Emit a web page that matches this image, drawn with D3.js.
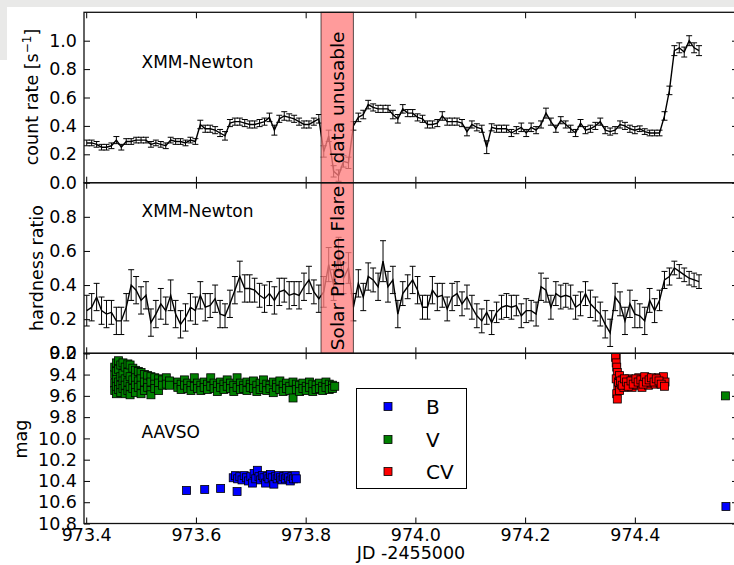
<!DOCTYPE html>
<html><head><meta charset="utf-8">
<script src="https://cdn.jsdelivr.net/npm/d3@7"></script>
<style>
html,body{margin:0;padding:0;background:#fff;}
svg{display:block;font-family:"DejaVu Sans",sans-serif;}
</style></head><body>
<svg id="chart" width="734" height="565"></svg>
<script>
// ---------------- DATA ----------------
const time = [
973.401,973.410,973.419,973.428,973.437,973.446,973.455,973.464,973.473,973.482,
973.491,973.500,973.509,973.518,973.527,973.536,973.545,973.554,973.563,973.572,
973.581,973.590,973.599,973.608,973.617,973.626,973.635,973.644,973.653,973.662,
973.671,973.680,973.689,973.698,973.707,973.716,973.725,973.734,973.743,973.752,
973.761,973.770,973.779,973.788,973.797,973.806,973.815,973.824,973.833,973.842,
973.851,973.860,973.869,973.878,973.887,973.896,973.905,973.914,973.923,973.932,
973.941,973.950,973.959,973.968,973.977,973.986,973.995,974.004,974.013,974.022,
974.031,974.040,974.049,974.058,974.067,974.076,974.085,974.094,974.103,974.112,
974.121,974.130,974.139,974.148,974.157,974.166,974.175,974.184,974.193,974.202,
974.211,974.220,974.229,974.238,974.247,974.256,974.265,974.274,974.283,974.292,
974.301,974.310,974.319,974.328,974.337,974.346,974.355,974.364,974.373,974.382,
974.391,974.400,974.409,974.418,974.427,974.436,974.445,974.454,974.463,974.472,
974.481,974.490,974.499,974.508,974.517];

const rate = [
0.28,0.28,0.27,0.25,0.25,0.26,0.30,0.25,0.29,0.29,
0.30,0.30,0.30,0.27,0.28,0.27,0.26,0.30,0.29,0.29,
0.28,0.30,0.29,0.41,0.38,0.38,0.37,0.35,0.33,0.42,
0.43,0.43,0.42,0.41,0.41,0.42,0.43,0.46,0.37,0.45,
0.47,0.46,0.45,0.43,0.41,0.41,0.43,0.45,0.22,0.33,
0.08,0.05,0.15,0.14,0.40,0.46,0.48,0.55,0.53,0.52,
0.52,0.52,0.48,0.45,0.52,0.49,0.49,0.46,0.45,0.41,
0.41,0.42,0.47,0.43,0.43,0.43,0.42,0.36,0.41,0.39,
0.38,0.25,0.39,0.38,0.38,0.38,0.35,0.37,0.39,0.35,
0.39,0.37,0.41,0.49,0.43,0.38,0.44,0.41,0.38,0.35,
0.42,0.37,0.38,0.40,0.43,0.37,0.36,0.37,0.41,0.40,
0.38,0.37,0.38,0.36,0.35,0.35,0.35,0.47,0.65,0.93,
0.95,0.92,1.00,0.95,0.93];

const rateErr = [
0.020,0.020,0.020,0.020,0.020,0.020,0.025,0.020,0.020,0.020,
0.020,0.020,0.020,0.020,0.020,0.020,0.020,0.020,0.020,0.020,
0.020,0.020,0.020,0.030,0.025,0.025,0.025,0.025,0.030,0.025,
0.025,0.025,0.025,0.025,0.025,0.025,0.025,0.030,0.035,0.025,
0.030,0.025,0.025,0.025,0.025,0.025,0.025,0.030,0.040,0.040,
0.040,0.040,0.040,0.040,0.030,0.030,0.030,0.030,0.025,0.025,
0.025,0.025,0.030,0.030,0.030,0.025,0.025,0.025,0.025,0.025,
0.025,0.025,0.030,0.025,0.025,0.025,0.025,0.030,0.025,0.025,
0.025,0.045,0.025,0.025,0.025,0.025,0.025,0.025,0.030,0.025,
0.030,0.025,0.025,0.035,0.025,0.025,0.025,0.025,0.025,0.025,
0.025,0.025,0.025,0.025,0.025,0.025,0.025,0.025,0.025,0.025,
0.025,0.025,0.020,0.020,0.020,0.020,0.020,0.030,0.030,0.035,
0.035,0.035,0.035,0.035,0.035];

const hardness = [
0.25,0.27,0.33,0.25,0.23,0.24,0.19,0.19,0.27,0.40,
0.37,0.31,0.34,0.18,0.23,0.29,0.25,0.34,0.23,0.17,
0.21,0.27,0.25,0.34,0.27,0.28,0.32,0.23,0.22,0.29,
0.37,0.45,0.38,0.38,0.37,0.34,0.32,0.35,0.31,0.36,
0.37,0.34,0.35,0.34,0.39,0.43,0.36,0.32,0.36,0.52,
0.40,0.58,0.44,0.50,0.27,0.41,0.33,0.45,0.43,0.39,
0.54,0.39,0.43,0.23,0.35,0.39,0.43,0.37,0.27,0.27,
0.37,0.33,0.34,0.26,0.33,0.35,0.29,0.33,0.27,0.22,
0.19,0.24,0.18,0.24,0.27,0.28,0.27,0.28,0.22,0.25,
0.25,0.23,0.39,0.37,0.27,0.35,0.33,0.34,0.33,0.27,
0.29,0.35,0.29,0.26,0.23,0.17,0.12,0.33,0.29,0.19,
0.29,0.23,0.22,0.19,0.31,0.25,0.31,0.43,0.45,0.50,
0.48,0.46,0.44,0.43,0.42];

const hardnessErr = [
0.09,0.08,0.08,0.08,0.08,0.07,0.08,0.08,0.08,0.09,
0.08,0.08,0.08,0.08,0.08,0.09,0.08,0.09,0.08,0.08,
0.08,0.08,0.08,0.08,0.08,0.07,0.08,0.08,0.07,0.08,
0.08,0.09,0.08,0.08,0.07,0.07,0.08,0.07,0.08,0.08,
0.07,0.08,0.07,0.08,0.08,0.08,0.07,0.08,0.09,0.10,
0.09,0.10,0.09,0.09,0.08,0.08,0.08,0.08,0.07,0.08,
0.12,0.09,0.08,0.08,0.07,0.07,0.08,0.08,0.07,0.07,
0.08,0.08,0.07,0.07,0.08,0.07,0.07,0.07,0.07,0.07,
0.07,0.07,0.07,0.06,0.07,0.07,0.07,0.06,0.07,0.07,
0.06,0.07,0.08,0.07,0.07,0.07,0.07,0.07,0.07,0.07,
0.07,0.07,0.08,0.07,0.07,0.08,0.08,0.08,0.07,0.08,
0.08,0.08,0.07,0.08,0.07,0.07,0.06,0.05,0.05,0.04,
0.04,0.04,0.04,0.04,0.04];

const magB = [
[973.583,10.49],[973.616,10.48],[973.645,10.47],[973.675,10.50],
[973.668,10.37],[973.672,10.35],[973.676,10.38],[973.680,10.36],[973.684,10.39],
[973.688,10.35],[973.692,10.37],[973.696,10.40],[973.700,10.36],[973.703,10.42],
[973.706,10.33],[973.709,10.38],[973.712,10.30],[973.715,10.36],[973.718,10.39],
[973.721,10.35],[973.724,10.37],[973.727,10.42],[973.730,10.36],[973.733,10.38],
[973.736,10.34],[973.739,10.37],[973.742,10.43],[973.745,10.36],[973.748,10.38],
[973.751,10.35],[973.754,10.37],[973.757,10.39],[973.760,10.36],[973.763,10.38],
[973.766,10.35],[973.769,10.37],[973.772,10.40],[973.775,10.36],[973.778,10.38],
[973.781,10.35],[973.783,10.38],
[974.566,10.64]];

const magV = [
[973.452,9.40],[973.452,9.48],[973.452,9.55],[973.452,9.33],
[973.455,9.29],[973.455,9.44],[973.455,9.58],[973.455,9.51],[973.455,9.37],
[973.459,9.27],[973.459,9.35],[973.459,9.47],[973.459,9.54],
[973.463,9.31],[973.463,9.42],[973.463,9.50],[973.463,9.57],
[973.467,9.29],[973.467,9.39],[973.467,9.46],[973.467,9.53],
[973.471,9.33],[973.471,9.44],[973.471,9.58],[973.471,9.50],
[973.476,9.30],[973.476,9.38],[973.476,9.47],[973.476,9.55],
[973.480,9.31],[973.480,9.42],[973.480,9.51],[973.480,9.59],
[973.485,9.34],[973.485,9.45],[973.485,9.53],
[973.490,9.36],[973.490,9.43],[973.490,9.50],[973.490,9.57],
[973.495,9.37],[973.495,9.46],[973.495,9.52],
[973.500,9.38],[973.500,9.44],[973.500,9.50],[973.500,9.58],
[973.506,9.40],[973.506,9.47],[973.506,9.55],
[973.512,9.41],[973.512,9.48],[973.512,9.52],
[973.518,9.42],[973.518,9.47],[973.518,9.55],[973.518,9.59],
[973.525,9.43],[973.525,9.49],[973.525,9.53],
[973.532,9.44],[973.532,9.48],[973.532,9.55],
[973.539,9.45],[973.539,9.50],
[973.546,9.43],[973.546,9.49],
[973.552,9.46],[973.552,9.50],
[973.567,9.47],[973.567,9.52],[973.573,9.49],[973.573,9.54],[973.579,9.45],[973.579,9.50],
[973.585,9.48],[973.585,9.53],[973.591,9.50],[973.591,9.55],[973.597,9.43],[973.597,9.51],
[973.603,9.48],[973.603,9.53],[973.609,9.50],[973.609,9.55],[973.615,9.47],[973.615,9.52],
[973.621,9.49],[973.621,9.54],[973.627,9.43],[973.627,9.51],[973.633,9.48],[973.633,9.53],
[973.639,9.50],[973.639,9.56],[973.645,9.47],[973.645,9.52],[973.651,9.49],[973.651,9.54],
[973.657,9.45],[973.657,9.51],[973.663,9.48],[973.663,9.53],[973.669,9.50],[973.669,9.56],
[973.675,9.43],[973.675,9.52],[973.681,9.48],[973.681,9.54],[973.687,9.50],[973.687,9.53],
[973.693,9.47],[973.693,9.55],[973.699,9.49],[973.699,9.52],[973.705,9.46],[973.705,9.53],
[973.711,9.50],[973.711,9.56],[973.717,9.48],[973.717,9.54],[973.723,9.45],[973.723,9.52],
[973.729,9.49],[973.729,9.55],[973.735,9.50],[973.735,9.53],[973.741,9.47],[973.741,9.57],
[973.747,9.49],[973.747,9.52],[973.753,9.46],[973.753,9.54],[973.759,9.50],[973.759,9.56],
[973.765,9.48],[973.765,9.53],[973.771,9.51],[973.771,9.55],[973.777,9.47],[973.777,9.62],
[973.783,9.49],[973.783,9.54],[973.789,9.50],[973.789,9.56],[973.795,9.48],[973.795,9.53],
[973.801,9.51],[973.801,9.55],[973.807,9.47],[973.807,9.52],[973.813,9.49],[973.813,9.56],
[973.819,9.50],[973.819,9.54],[973.825,9.48],[973.825,9.53],[973.831,9.51],[973.831,9.55],
[973.837,9.47],[973.837,9.52],[973.843,9.49],[973.843,9.54],[973.849,9.50],[973.849,9.53],
[973.853,9.51],
[974.565,9.60]];

const magCV = [
[974.366,9.21],[974.365,9.24],[974.366,9.29],[974.367,9.33],[974.368,9.38],[974.366,9.44],
[974.369,9.52],[974.367,9.58],[974.368,9.63],[974.370,9.47],[974.372,9.41],[974.372,9.55],
[974.375,9.49],[974.378,9.45],[974.380,9.52],[974.383,9.47],[974.386,9.50],[974.389,9.44],
[974.392,9.48],[974.395,9.52],[974.398,9.45],[974.401,9.47],[974.404,9.50],[974.407,9.43],
[974.410,9.48],[974.413,9.52],[974.416,9.45],[974.419,9.47],[974.422,9.43],[974.425,9.50],
[974.428,9.46],[974.431,9.48],[974.434,9.44],[974.437,9.49],[974.440,9.46],[974.443,9.43],
[974.446,9.48],[974.449,9.45],[974.452,9.42],[974.455,9.47],
[974.374,9.46],[974.377,9.50],[974.381,9.44],[974.385,9.47],[974.388,9.51],[974.393,9.46],
[974.397,9.49],[974.402,9.44],[974.406,9.47],[974.411,9.45],[974.415,9.49],[974.418,9.42],
[974.421,9.47],[974.426,9.45],[974.430,9.43],[974.435,9.47],[974.439,9.44],[974.444,9.46],
[974.448,9.49],[974.454,9.51]];

const xTicks = [973.4, 973.6, 973.8, 974.0, 974.2, 974.4];
const rateTicks = [0.0, 0.2, 0.4, 0.6, 0.8, 1.0];
const hardnessTicks = [0.0, 0.2, 0.4, 0.6, 0.8];
const magTicks = [9.2, 9.4, 9.6, 9.8, 10.0, 10.2, 10.4, 10.6, 10.8];
const flareSpan = [973.828, 973.887];
const legendLabels = ["B", "V", "CV"];

// ---------------- DRAWING ----------------
const svg = d3.select("#chart");
const L = 84, R = 738;
const x = d3.scaleLinear().domain([973.396, 974.588]).range([L, R]);

// page background strips (screenshot frame)
svg.append("rect").attr("x",0).attr("y",0).attr("width",734).attr("height",7).attr("fill","#e9e9e8");
svg.append("rect").attr("x",0).attr("y",0).attr("width",7).attr("height",60).attr("fill","#e9e9e8");

const yRate = d3.scaleLinear().domain([0, 1.2]).range([182.7, 12.3]);
const yHR = d3.scaleLinear().domain([0, 1.0]).range([353.3, 182.7]);
const yMag = d3.scaleLinear().domain([9.2, 10.8]).range([353.3, 523.5]);

const panels = [
  {id:"p1", y:yRate, top:12.3, bot:182.7, ticks:rateTicks, fmt:d3.format(".1f")},
  {id:"p2", y:yHR, top:182.7, bot:353.3, ticks:hardnessTicks, fmt:d3.format(".1f")},
  {id:"p3", y:yMag, top:353.3, bot:523.5, ticks:magTicks, fmt:d3.format(".1f")}
];

const defs = svg.append("defs");
panels.forEach(p => {
  defs.append("clipPath").attr("id","clip-"+p.id)
    .append("rect").attr("x",L).attr("y",p.top).attr("width",R-L).attr("height",p.bot-p.top);
});

function drawErrSeries(p, vals, errs) {
  const g = svg.append("g").attr("clip-path","url(#clip-"+p.id+")");
  const pts = time.map((t,i)=>({t, v:vals[i], e:errs[i]}));
  const eb = g.append("g").attr("stroke","#000").attr("stroke-width",1);
  pts.forEach(d=>{
    const xx = x(d.t), y1 = p.y(d.v - d.e), y2 = p.y(d.v + d.e);
    eb.append("line").attr("x1",xx).attr("x2",xx).attr("y1",y1).attr("y2",y2);
    eb.append("line").attr("x1",xx-3).attr("x2",xx+3).attr("y1",y1).attr("y2",y1);
    eb.append("line").attr("x1",xx-3).attr("x2",xx+3).attr("y1",y2).attr("y2",y2);
  });
  g.append("path").datum(pts)
    .attr("d", d3.line().x(d=>x(d.t)).y(d=>p.y(d.v)))
    .attr("fill","none").attr("stroke","#000").attr("stroke-width",1.4)
    .attr("stroke-linejoin","miter");
}

drawErrSeries(panels[0], rate, rateErr);
drawErrSeries(panels[1], hardness, hardnessErr);

// flare spans
[panels[0], panels[1]].forEach(p=>{
  svg.append("rect")
    .attr("x", x(flareSpan[0])).attr("y", p.top)
    .attr("width", x(flareSpan[1]) - x(flareSpan[0])).attr("height", p.bot - p.top)
    .attr("fill","#ff7f7f").attr("fill-opacity",0.78)
    .attr("stroke","#000").attr("stroke-opacity",0.65).attr("stroke-width",1);
});

// AAVSO markers
const g3 = svg.append("g").attr("clip-path","url(#clip-p3)");
const colors = {B:"#0000ff", V:"#008000", CV:"#ff0000"};
function squares(data, color) {
  g3.append("g").selectAll("rect").data(data).join("rect")
    .attr("x", d=>x(d[0])-4).attr("y", d=>yMag(d[1])-4)
    .attr("width",8).attr("height",8)
    .attr("fill",color).attr("stroke","#000").attr("stroke-width",0.8);
}
squares(magB, colors.B);
squares(magV, colors.V);
squares(magCV, colors.CV);

// axes, ticks, frames
panels.forEach((p,k)=>{
  const ax = svg.append("g").attr("font-family","DejaVu Sans, sans-serif");
  const left = d3.axisLeft(p.y).tickValues(p.ticks).tickFormat(p.fmt).tickSize(-6).tickPadding(7);
  const right = d3.axisRight(p.y).tickValues(p.ticks).tickFormat("").tickSize(-6);
  const top = d3.axisTop(x).tickValues(xTicks).tickFormat("").tickSize(-6);
  const bottom = d3.axisBottom(x).tickValues(xTicks).tickFormat(k===2? d3.format(".1f") : "").tickSize(-6).tickPadding(5);
  const gl = ax.append("g").attr("transform",`translate(${L},0)`).call(left);
  const gr = ax.append("g").attr("transform",`translate(${R},0)`).call(right);
  const gt = ax.append("g").attr("transform",`translate(0,${p.top})`).call(top);
  const gb = ax.append("g").attr("transform",`translate(0,${p.bot})`).call(bottom);
  [gl,gr,gt,gb].forEach(g=>{
    g.select(".domain").remove();
    g.selectAll(".tick line").attr("stroke","#000").attr("stroke-width",1);
    g.selectAll("text").attr("font-size","17.5px").attr("fill","#000").attr("font-family","DejaVu Sans, sans-serif");
  });
  ax.append("rect").attr("x",L).attr("y",p.top).attr("width",R-L).attr("height",p.bot-p.top)
    .attr("fill","none").attr("stroke","#111").attr("stroke-width",1.3);
});

// span labels
const fl = svg.append("g").attr("font-size","18.5px").attr("fill","#000");
const spanMid = (x(flareSpan[0]) + x(flareSpan[1]))/2;
fl.append("text").attr("transform",`translate(${spanMid+6.5},${(panels[0].top+panels[0].bot)/2}) rotate(-90)`)
  .attr("text-anchor","middle").text("data unusable");
fl.append("text").attr("transform",`translate(${spanMid+6.5},${(panels[1].top+panels[1].bot)/2}) rotate(-90)`)
  .attr("text-anchor","middle").text("Solar Proton Flare");

// panel annotations
const ann = svg.append("g").attr("font-size","17px").attr("fill","#000");
ann.append("text").attr("x",141.5).attr("y",68).text("XMM-Newton");
ann.append("text").attr("x",141.5).attr("y",216.5).text("XMM-Newton");
ann.append("text").attr("x",141.5).attr("y",438).text("AAVSO");

// axis labels
const lab = svg.append("g").attr("font-size","17.5px").attr("fill","#000");
const t1 = lab.append("text").attr("transform","translate(38,97) rotate(-90)").attr("text-anchor","middle");
t1.append("tspan").text("count rate [s");
t1.append("tspan").attr("font-size","12px").attr("dy","-7").text("\u22121");
t1.append("tspan").attr("dy","7").text("]");
lab.append("text").attr("transform","translate(43,268) rotate(-90)").attr("text-anchor","middle").text("hardness ratio");
lab.append("text").attr("transform","translate(27,439) rotate(-90)").attr("text-anchor","middle").text("mag");
lab.append("text").attr("x",(L+R)/2).attr("y",559).attr("text-anchor","middle").text("JD -2455000");

// legend
const lg = svg.append("g");
lg.append("rect").attr("x",356.5).attr("y",388.5).attr("width",110).attr("height",100)
  .attr("fill","#fff").attr("stroke","#000").attr("stroke-width",1);
const legY = [406.5, 439.5, 471.5];
legendLabels.forEach((name,i)=>{
  lg.append("rect").attr("x",388-4).attr("y",legY[i]-4).attr("width",8).attr("height",8)
    .attr("fill",colors[name]).attr("stroke","#000").attr("stroke-width",0.8);
  lg.append("text").attr("x",426).attr("y",legY[i]+7.5).attr("font-size","20px").attr("fill","#000").text(name);
});
</script>
</body></html>
